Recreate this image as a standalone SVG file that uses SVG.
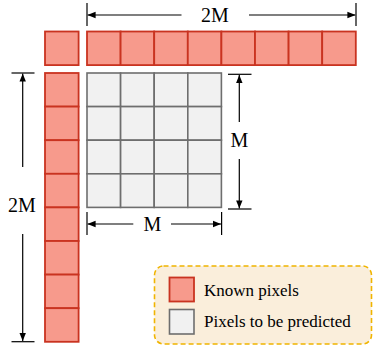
<svg xmlns="http://www.w3.org/2000/svg" width="373" height="350" viewBox="0 0 373 350">
<defs>
<style>
.k{fill:#f79a8c;stroke:#c93320;stroke-width:1.8}
.g{fill:#f1f1f1;stroke:#6e6e6e;stroke-width:1.6}
.ln{stroke:#000;stroke-width:1.2;fill:none}
.t{font-family:"Liberation Serif","Times New Roman",serif;fill:#000}
</style>
<marker id="ah" viewBox="0 0 10 10" refX="10" refY="5" markerWidth="8" markerHeight="8" markerUnits="userSpaceOnUse" orient="auto">
<path d="M0,1 L10,5 L0,9 z" fill="#000"/>
</marker>
<marker id="ahs" viewBox="0 0 10 10" refX="0" refY="5" markerWidth="8" markerHeight="8" markerUnits="userSpaceOnUse" orient="auto">
<path d="M10,1 L0,5 L10,9 z" fill="#000"/>
</marker>
</defs>

<g id="corner">
<rect class="k" x="45" y="31.5" width="33.6" height="33.6"/>
</g>

<g id="top-row">
<rect class="k" x="87" y="31.5" width="33.6" height="33.6"/>
<rect class="k" x="120.6" y="31.5" width="33.6" height="33.6"/>
<rect class="k" x="154.2" y="31.5" width="33.6" height="33.6"/>
<rect class="k" x="187.8" y="31.5" width="33.6" height="33.6"/>
<rect class="k" x="221.4" y="31.5" width="33.6" height="33.6"/>
<rect class="k" x="255" y="31.5" width="33.6" height="33.6"/>
<rect class="k" x="288.6" y="31.5" width="33.6" height="33.6"/>
<rect class="k" x="322.2" y="31.5" width="33.6" height="33.6"/>
</g>

<g id="left-col">
<rect class="k" x="45" y="73" width="33.6" height="33.6"/>
<rect class="k" x="45" y="106.6" width="33.6" height="33.6"/>
<rect class="k" x="45" y="140.2" width="33.6" height="33.6"/>
<rect class="k" x="45" y="173.8" width="33.6" height="33.6"/>
<rect class="k" x="45" y="207.4" width="33.6" height="33.6"/>
<rect class="k" x="45" y="241" width="33.6" height="33.6"/>
<rect class="k" x="45" y="274.6" width="33.6" height="33.6"/>
<rect class="k" x="45" y="308.2" width="33.6" height="33.6"/>
</g>

<g id="predict-grid">
<rect class="g" x="87" y="73" width="33.6" height="33.6"/>
<rect class="g" x="120.6" y="73" width="33.6" height="33.6"/>
<rect class="g" x="154.2" y="73" width="33.6" height="33.6"/>
<rect class="g" x="187.8" y="73" width="33.6" height="33.6"/>
<rect class="g" x="87" y="106.6" width="33.6" height="33.6"/>
<rect class="g" x="120.6" y="106.6" width="33.6" height="33.6"/>
<rect class="g" x="154.2" y="106.6" width="33.6" height="33.6"/>
<rect class="g" x="187.8" y="106.6" width="33.6" height="33.6"/>
<rect class="g" x="87" y="140.2" width="33.6" height="33.6"/>
<rect class="g" x="120.6" y="140.2" width="33.6" height="33.6"/>
<rect class="g" x="154.2" y="140.2" width="33.6" height="33.6"/>
<rect class="g" x="187.8" y="140.2" width="33.6" height="33.6"/>
<rect class="g" x="87" y="173.8" width="33.6" height="33.6"/>
<rect class="g" x="120.6" y="173.8" width="33.6" height="33.6"/>
<rect class="g" x="154.2" y="173.8" width="33.6" height="33.6"/>
<rect class="g" x="187.8" y="173.8" width="33.6" height="33.6"/>
</g>

<g id="connectors">
<!-- top 2M -->
<line class="ln" x1="87" y1="3" x2="87" y2="26"/>
<line class="ln" x1="356" y1="3" x2="356" y2="26"/>
<line class="ln" x1="181.5" y1="15" x2="87.6" y2="15" marker-end="url(#ah)"/>
<line class="ln" x1="249" y1="15" x2="355.4" y2="15" marker-end="url(#ah)"/>
<!-- left 2M -->
<line class="ln" x1="11.5" y1="73" x2="34.5" y2="73"/>
<line class="ln" x1="11.5" y1="341.7" x2="34.5" y2="341.7"/>
<line class="ln" x1="22.7" y1="167" x2="22.7" y2="73.6" marker-end="url(#ah)"/>
<line class="ln" x1="22.7" y1="234" x2="22.7" y2="341.1" marker-end="url(#ah)"/>
<!-- right M -->
<line class="ln" x1="228" y1="74.3" x2="251.5" y2="74.3"/>
<line class="ln" x1="228" y1="209" x2="251.5" y2="209"/>
<line class="ln" x1="239.3" y1="122" x2="239.3" y2="74.9" marker-end="url(#ah)"/>
<line class="ln" x1="239.3" y1="159" x2="239.3" y2="208.4" marker-end="url(#ah)"/>
<!-- bottom M -->
<line class="ln" x1="87" y1="212" x2="87" y2="235"/>
<line class="ln" x1="221.6" y1="212" x2="221.6" y2="235"/>
<line class="ln" x1="133.3" y1="224" x2="87.6" y2="224" marker-end="url(#ah)"/>
<line class="ln" x1="171" y1="224" x2="221" y2="224" marker-end="url(#ah)"/>
</g>

<g id="labels">
<text class="t" x="215" y="22" font-size="20" text-anchor="middle">2M</text>
<text class="t" x="22" y="212" font-size="20" text-anchor="middle">2M</text>
<text class="t" x="239.5" y="147" font-size="20" text-anchor="middle">M</text>
<text class="t" x="152.5" y="231" font-size="20" text-anchor="middle">M</text>
</g>

<g id="legend">
<rect x="154.5" y="266" width="217" height="78" rx="9" ry="9" fill="#faeedb" stroke="#f0b400" stroke-width="1.6" stroke-dasharray="5,3"/>
<rect class="k" x="169.5" y="277.5" width="24.5" height="24"/>
<rect class="g" x="169.5" y="309.5" width="24.5" height="24.5"/>
<text class="t" x="204" y="296" font-size="17">Known pixels</text>
<text class="t" x="204" y="327" font-size="17">Pixels to be predicted</text>
</g>
</svg>
